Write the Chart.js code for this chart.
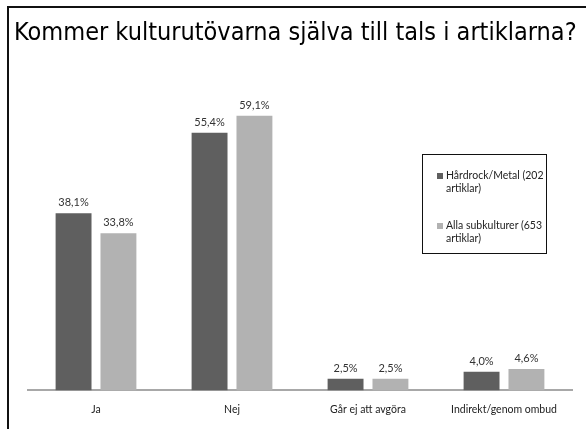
<!DOCTYPE html>
<html>
<head>
<meta charset="utf-8">
<script src="https://cdn.jsdelivr.net/npm/chart.js@4/dist/chart.umd.min.js"></script>
<style>
  html, body { margin: 0; padding: 0; background: #fff; }
  #wrap { position: relative; width: 586px; height: 429px; overflow: hidden; }
  #frame { position: absolute; left: 7px; top: 6px; width: 600px; height: 450px; border-left: 2px solid #111; border-top: 2px solid #111; }
  #title { position: absolute; left: 14px; top: 18px; white-space: nowrap; font-family: "DejaVu Sans Condensed", "DejaVu Sans", sans-serif; font-size: 21px; line-height: 21px; color: #000; }
  #legend { position: absolute; left: 422px; top: 154px; width: 123px; height: 98px; border: 1.5px solid #111; background: #fff; font-family: Lato, "Liberation Sans", sans-serif; font-size: 10.5px; color: #222; }
  .item { position: absolute; left: 23px; width: 100px; line-height: 13px; }
  .sw { position: absolute; left: -9px; top: 4px; width: 6px; height: 6px; }
  #c { position: absolute; left: 0; top: 0; }
</style>
</head>
<body>
<div id="wrap">
  <canvas id="c" width="586" height="429"></canvas>
  <div id="frame"></div>
  <div id="title">Kommer kulturutövarna själva till tals i artiklarna?</div>
  <div id="legend"></div>
</div>
<script>
const titleText = "Kommer kulturutövarna själva till tals i artiklarna?";
const categories = ["Ja", "Nej", "Går ej att avgöra", "Indirekt/genom ombud"];
const seriesNames = ["Hårdrock/Metal (202 artiklar)", "Alla subkulturer (653 artiklar)"];
const hardrockValues = [38.1, 55.4, 2.5, 4.0];
const allaValues = [33.8, 59.1, 2.5, 4.6];
const seriesColors = ["#5f5f5f", "#b2b2b2"];

// fit title width
const t = document.getElementById('title');
t.textContent = titleText;
const w = t.getBoundingClientRect().width;
const target = 563;
const fs = 21 * target / w;
t.style.fontSize = fs.toFixed(2) + 'px';
t.style.lineHeight = fs.toFixed(2) + 'px';
t.style.top = (40 - 0.846 * fs).toFixed(1) + 'px';

// legend
const lg = document.getElementById('legend');
const tops = [14, 64];
seriesNames.forEach((n, i) => {
  const d = document.createElement('div');
  d.className = 'item';
  d.style.top = tops[i] + 'px';
  const s = document.createElement('span');
  s.className = 'sw';
  s.style.background = seriesColors[i];
  d.appendChild(s);
  d.appendChild(document.createTextNode(n));
  lg.appendChild(d);
});

const labelPlugin = {
  id: 'vlabels',
  afterDatasetsDraw(chart) {
    const ctx = chart.ctx;
    ctx.save();
    ctx.font = '11px Lato, "Liberation Sans", sans-serif';
    ctx.fillStyle = '#333';
    ctx.textAlign = 'center';
    ctx.textBaseline = 'bottom';
    chart.data.datasets.forEach((ds, di) => {
      chart.getDatasetMeta(di).data.forEach((el, i) => {
        const v = ds.data[i];
        ctx.fillText(v.toFixed(1).replace('.', ',') + '%', el.x, el.y - 5);
      });
    });
    ctx.restore();
  }
};

new Chart(document.getElementById('c'), {
  type: 'bar',
  data: {
    labels: categories,
    datasets: [
      { label: seriesNames[0], data: hardrockValues, backgroundColor: seriesColors[0] },
      { label: seriesNames[1], data: allaValues, backgroundColor: seriesColors[1] }
    ]
  },
  options: {
    responsive: false,
    animation: false,
    events: [],
    layout: { padding: { left: 28, right: 14, top: 65, bottom: 0 } },
    datasets: { bar: { categoryPercentage: 0.66, barPercentage: 0.8 } },
    plugins: { legend: { display: false }, title: { display: false }, tooltip: { enabled: false } },
    scales: {
      x: {
        grid: { display: false, drawTicks: false },
        border: { display: true, color: '#a8a8a8', width: 2 },
        ticks: { padding: 13, color: '#222', font: { family: 'Lato, "Liberation Sans", sans-serif', size: 10.5 } }
      },
      y: { display: false, min: 0, max: 70 }
    }
  },
  plugins: [labelPlugin]
});
</script>
</body>
</html>
